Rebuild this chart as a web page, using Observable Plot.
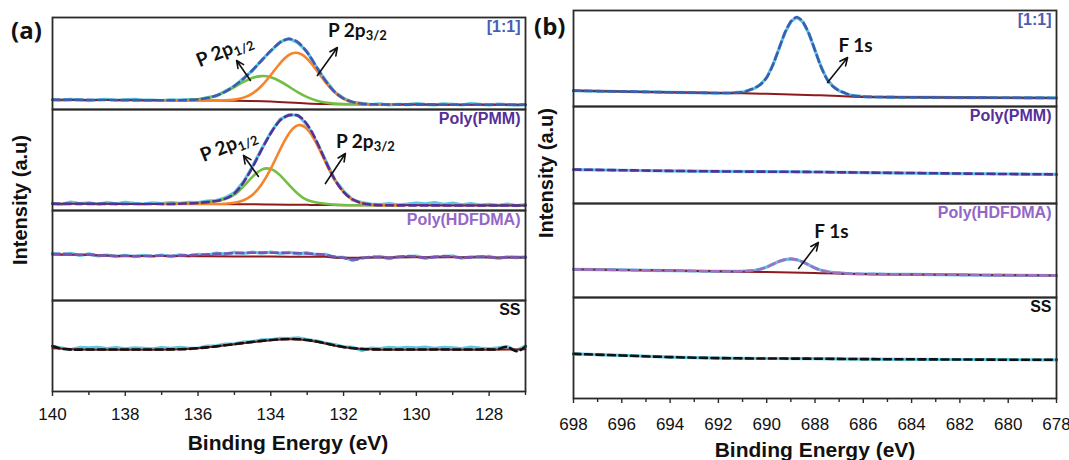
<!DOCTYPE html>
<html><head><meta charset="utf-8">
<script src="https://cdn.jsdelivr.net/npm/d3@7"></script>
<script src="https://cdn.jsdelivr.net/npm/@observablehq/plot@0.6"></script>
<style>
body{margin:0;background:#fff;width:1069px;height:460px;position:relative;overflow:hidden;font-family:"Liberation Sans",Arial,sans-serif;color:#111}
.ttl{position:absolute;font-weight:bold;font-size:20px;white-space:nowrap}
.pl{position:absolute;font-weight:bold;font-size:24px;font-family:"Open Sans","Liberation Sans",sans-serif}
</style></head><body>
<div id="root"></div>
<script>
// ---------- data ----------
const samples = ["[1:1]", "Poly(PMM)", "Poly(HDFDMA)", "SS"];
const energyA = [140,139.75,139.5,139.25,139,138.75,138.5,138.25,138,137.75,137.5,137.25,137,136.75,136.5,136.25,136,135.75,135.5,135.25,135,134.75,134.5,134.25,134,133.75,133.5,133.25,133,132.75,132.5,132.25,132,131.75,131.5,131.25,131,130.75,130.5,130.25,130,129.75,129.5,129.25,129,128.75,128.5,128.25,128,127.75,127.5,127.25,127];
const peakEnergyA = [137,136.75,136.5,136.25,136,135.75,135.5,135.25,135,134.75,134.5,134.25,134,133.75,133.5,133.25,133,132.75,132.5,132.25,132,131.75,131.5,131.25,131,130.75,130.5];
const bgEnergyA = [140,139,138,137,136,135,134.5,134,133.5,133,132.5,132,131,130,129,128,127];
const ticksA = [140,138,136,134,132,130,128];
const minorTicksA = [139,137,135,133,131,129,127];

const a1Raw = [12.6,11.9,12.8,12.2,11.5,12.4,12.9,11.8,12.3,12.7,11.9,12.1, 11.6,12.3,11.9,12.6,12.5,14.6,16.4,21.5,26.8,35.3,43.6,54.8,64.2,73.8,77.6,73.0,63.3,47.4,33.3,20.6,14.1,9.6,8.5,7.2,7.9,6.8,7.6, 7.1,8.2,7.4,6.9,8.0,7.6,7.0,8.3,7.5,6.8,7.7,7.2,6.6,7.1];
const a1Env = [12.3,12.28,12.25,12.22,12.2,12.15,12.1,12.05,12.0,11.95,11.9,11.85, 11.8,11.85,11.87,12.13,12.79,14.18,16.82,21.1,27.2,34.85,44.05,54.2,64.7,73.2,77.1,73.5,62.8,47.8,32.8,21.1,13.7,9.9,8.2,7.58,7.36,7.3,7.25, 7.22,7.2,7.18,7.15,7.12,7.1,7.08,7.05,7.02,7.0,7.0,7.0,7.0,7.0];
const a1Bg = [12.3,12.2,12.0,11.8,11.6,11.3,11.0,10.4,9.4,8.4,7.8,7.5,7.3,7.2,7.1,7.0,7.0];
const a1P32 = [11.8,11.75,11.7,11.65,11.6,11.5,11.5,11.73,12.56,14.65,19.25,27.3,38.7,51.0,60.2,62.2,56.0,44.2,31.1,20.4,13.46,9.81,8.2,7.58,7.36,7.3,7.25];
const a1P12 = [11.8,11.8,11.87,12.13,12.79,14.18,16.72,20.7,25.9,31.35,35.8,37.6,36.4,32.1,26.3,20.2,15.16,11.67,9.47,8.3,7.76,7.53,7.4,7.35,7.3,7.3,7.25];

const a2Raw = [7.2,6.1,8.3,6.8,7.5,6.2,7.9,6.5,8.1,7.0,6.4,7.6, 6.9,7.8,7.2,8.1,7.9,9.2,9.9,12.5,17.6,28.4,43.8,61.2,77.3,90.1,94.8,94.3,84.6,68.5,50.1,30.7,19.2,10.4,7.9,6.3,5.9,6.8,5.6, 6.3,7.4,6.6,7.9,6.1,7.3,5.6,6.9,5.4,6.2,5.1,6.4,4.9,5.8];
const a2Env = [6.6,6.6,6.6,6.6,6.6,6.58,6.55,6.53,6.5,6.5,6.5,6.5, 6.5,6.48,6.75,7.03,7.5,8.3,9.45,11.74,16.92,27.85,43.0,60.4,76.5,89.0,94.2,93.8,85.25,69.2,49.3,31.3,18.4,10.9,7.25,5.8,5.3,5.14,5.1, 5.1,5.1,5.08,5.05,5.03,5.0,5.0,5.0,5.0,5.0,5.0,5.0,5.0,5.0];
const a2Bg = [6.6,6.6,6.5,6.5,6.4,6.3,6.2,6.0,5.8,5.6,5.4,5.2,5.1,5.1,5.0,5.0,5.0];
const a2P32 = [6.5,6.48,6.45,6.43,6.4,6.4,6.45,6.74,7.67,10.15,15.7,26.0,41.4,59.9,76.2,84.3,80.5,66.7,48.1,30.8,18.2,10.9,7.25,5.8,5.3,5.14,5.1];
const a2P12 = [6.5,6.48,6.75,7.03,7.5,8.28,9.35,11.33,15.55,23.95,33.5,40.5,41.1,35.0,25.4,16.4,10.35,8.0,6.6,5.8,5.4,5.18,5.15,5.13,5.1,5.1,5.1];

const a3Raw = [52.3,51.1,52.4,50.2,51.8,49.6,50.5,48.8,50.3,48.7,50.1,48.9, 50.6,48.8,50.7,49.6,51.4,50.5,52.6,51.6,53.4,52.2,53.8,52.5,53.9,52.3,53.6,51.9,53.1,50.8,51.3,47.9,48.0,44.6,47.5,47.8,49.2,46.5,48.9, 48.8,49.4,46.8,48.9,48.6,49.5,46.9,48.6,48.1,49.0,46.7,48.6,47.7,48.5];
const a3Env = [51.5,52.0,51.2,50.8,51.0,50.3,49.8,49.5,49.6,49.3,49.4,49.6, 49.8,49.5,49.9,50.3,50.6,51.2,51.8,52.3,52.6,52.9,53.1,53.2,53.1,53.0,52.8,52.6,52.3,51.6,50.5,48.8,47.2,45.5,46.8,48.5,48.0,47.2,48.3, 49.5,48.6,47.5,48.2,49.3,48.7,47.6,47.9,48.8,48.2,47.4,47.9,48.4,47.8];
const a3Bg = [51.0,50.5,49.5,49.4,49.3,49.0,48.9,48.8,48.7,48.6,48.5,47.5,47.8,48.0,48.0,47.9,47.8];

const a4Raw = [49.5,47.8,46.2,48.4,47.9,48.6,47.1,48.3,46.9,48.1,47.5,46.8, 48.2,47.4,48.6,47.3,47.8,49.9,50.3,52.1,52.4,54.4,54.9,56.8,56.9,58.4,58.1,58.9,57.0,55.6,53.2,51.5,49.0,48.6,45.1,47.8,47.2,48.5,47.6, 48.4,47.9,48.8,47.4,48.6,48.1,47.2,48.7,47.6,47.0,47.9,49.3,44.8,50.1];
const a4Env = [50.0,47.0,46.0,46.0,46.1,46.1,46.2,46.2,46.2,46.2,46.2,46.2, 46.2,46.3,46.4,46.8,47.6,48.5,49.6,50.8,52.0,53.3,54.5,55.6,56.6,57.3,57.7,57.5,56.6,55.0,53.0,50.8,48.9,47.6,46.8,46.4,46.2,46.2,46.2, 46.2,46.2,46.2,46.2,46.2,46.2,46.2,46.2,46.2,46.3,46.6,48.8,44.3,49.5];
const a4Bg = [47.5,46.0,46.0,46.0,47.4,51.8,54.3,56.4,57.5,56.4,52.8,48.7,46.0,46.0,46.0,46.0,46.3];

const energyB = [698,697,696,695,694,693,692,691.5,691,690.75,690.5,690.25,690,689.75,689.5,689.25,689,688.75,688.5,688.25,688,687.75,687.5,687.25,687,686.75,686.5,686,685.5,685,684,683,682,681,680,679,678];
const energyB2 = [698,696,694,692,690,688,686,684,682,680,678];
const bgEnergyB = [698,696,694,692,691,690,689,688,687,686,684,682,680,678];
const ticksB = [698,696,694,692,690,688,686,684,682,680,678];
const minorTicksB = [697,695,693,691,689,687,685,683,681,679];

const b1Spec = [16.5,16.05,15.6,15.2,14.8,14.4,14.0,14.15,14.9,16.8,19.1,23.1,30.2,42.9,59.65,76.5,88.4,93.0,88.0,75.7,58.5,41.4,28.25,20.8,16.5,13.9,11.65,10.3,9.9,9.8,9.6,9.45,9.3,9.2,9.1,9.0,8.9];
const b1Bg = [16.5,15.6,14.8,14.0,13.7,13.3,12.6,11.8,10.9,10.0,9.6,9.3,9.1,8.9];
const b2Spec = [35.0,34.3,33.6,33.1,32.8,32.5,31.9,31.4,30.9,30.4,30.0];
const b3Spec = [30.0,29.6,29.3,28.9,28.6,28.2,27.8,27.7,28.0,28.3,28.95,30.2,32.4,35.4,38.25,40.3,41.1,40.1,37.75,34.6,31.4,29.0,27.5,26.6,26.1,25.6,25.25,25.0,24.9,24.75,24.5,24.3,24.1,23.9,23.7,23.55,23.4];
const b3Bg = [30.0,29.3,28.6,27.8,27.4,27.0,26.5,26.0,25.5,25.0,24.5,24.1,23.7,23.4];
const b4Spec = [44.2,42.6,41.0,40.0,39.6,39.4,39.0,38.8,38.6,38.4,38.3];

// ---------- styling ----------
const C = {raw:"#5cc8e0", bg:"#8e1b1b", p32:"#f7842a", p12:"#72bf44"};
const envColors = ["#3d5bb0","#56309a","#7b52b8","#111111"];
const envColorsB = ["#3d5bb0","#56309a","#a070c8","#111111"];
const labelColors = ["#4a5db5","#56309a","#9466c8","#111111"];
const pairs = (es, vs) => es.map((e, i) => ({e, v: vs[i]}));

const panelA = {
  left: 0, width: 535, ml: 52, mr: 10, domain: [140,127], ticks: ticksA, minor: minorTicksA, mb: 69, pad: 11,
  subs: [
    {top:17, h:92, yd:[2,100], raw:[energyA,a1Raw], env:[energyA,a1Env], bg:[bgEnergyA,a1Bg], comps:[[peakEnergyA,a1P12,C.p12],[peakEnergyA,a1P32,C.p32]],
     texts:[{e:135.27,v:64.8,t:"P 2p_1/2",r:-22},{e:131.62,v:86.2,t:"P 2p_3/2",r:0}],
     arrows:[{e1:134.56,v1:32.9,e2:134.94,v2:54.2},{e1:132.72,v1:38.2,e2:132.17,v2:68.0}]},
    {top:109, h:101, yd:[0,100], raw:[energyA,a2Raw], env:[energyA,a2Env], bg:[bgEnergyA,a2Bg], comps:[[peakEnergyA,a2P12,C.p12],[peakEnergyA,a2P32,C.p32]],
     texts:[{e:135.16,v:64.4,t:"P 2p_1/2",r:-22},{e:131.40,v:68.3,t:"P 2p_3/2",r:0}],
     arrows:[{e1:134.34,v1:33.7,e2:134.75,v2:54.5},{e1:132.50,v1:26.7,e2:131.95,v2:56.4}]},
    {top:210, h:90, yd:[0,100], raw:[energyA,a3Raw], env:[energyA,a3Env], bg:[bgEnergyA,a3Bg], comps:[], texts:[], arrows:[]},
    {top:300, h:91, yd:[0,100], raw:[energyA,a4Raw], env:[energyA,a4Env], bg:[bgEnergyA,a4Bg], comps:[], texts:[], arrows:[]}
  ], envColors
};
const panelB = {
  left: 520, width: 549, ml: 53, mr: 13, domain: [698,678], ticks: ticksB, minor: minorTicksB, mb: 62, pad: 14,
  subs: [
    {top:10, h:96, yd:[0,100], raw:[energyB,b1Spec], env:[energyB,b1Spec], bg:[bgEnergyB,b1Bg], comps:[],
     texts:[{e:686.32,v:63.5,t:"F 1s",r:0}], arrows:[{e1:687.48,v1:25,e2:686.65,v2:51}]},
    {top:106, h:97, yd:[0,100], raw:[energyB2,b2Spec], env:[energyB2,b2Spec], bg:null, comps:[], texts:[], arrows:[]},
    {top:203, h:94, yd:[0,100], raw:[energyB,b3Spec], env:[energyB,b3Spec], bg:[bgEnergyB,b3Bg], comps:[],
     texts:[{e:687.32,v:70.2,t:"F 1s",r:0}], arrows:[{e1:688.68,v1:30.9,e2:687.86,v2:58.5}]},
    {top:297, h:101, yd:[0,100], raw:[energyB2,b4Spec], env:[energyB2,b4Spec], bg:null, comps:[], texts:[], arrows:[]}
  ], envColors: envColorsB
};

const root = document.getElementById("root");
const NS = "http://www.w3.org/2000/svg";

function subscriptify(svg) {
  svg.querySelectorAll("text").forEach(t => {
    const s = t.textContent;
    const i = s.indexOf("_");
    if (i < 0) return;
    t.textContent = "";
    const a = document.createElementNS(NS, "tspan"); a.textContent = s.slice(0, i);
    const b = document.createElementNS(NS, "tspan"); b.textContent = s.slice(i + 1);
    b.setAttribute("font-size", "13"); b.setAttribute("dy", "0.28em");
    t.append(a, b);
  });
}

function drawPanel(P) {
  P.subs.forEach((s, k) => {
    const last = k === P.subs.length - 1;
    const marks = [];
    marks.push(Plot.line(pairs(...s.raw), {x:"e", y:"v", stroke:C.raw, strokeWidth:3.2}));
    if (s.bg) marks.push(Plot.line(pairs(...s.bg), {x:"e", y:"v", stroke:C.bg, strokeWidth:2, curve:"natural"}));
    for (const [es, vs, col] of s.comps) marks.push(Plot.line(pairs(es, vs), {x:"e", y:"v", stroke:col, strokeWidth:2.6, curve:"natural"}));
    marks.push(Plot.line(pairs(...s.env), {x:"e", y:"v", stroke:P.envColors[k], strokeWidth:2.6, strokeDasharray:"7,4.5", curve:"natural"}));
    marks.push(Plot.arrow(s.arrows, {x1:"e1", y1:"v1", x2:"e2", y2:"v2", stroke:"#111", strokeWidth:1.6, headLength:8, headAngle:50}));
    marks.push(Plot.text(s.texts, {x:"e", y:"v", text:"t", rotate:"r", fontSize:19, fontWeight:"bold", fill:"#111", fontFamily:"Lato, 'Open Sans', sans-serif"}));
    marks.push(Plot.text([samples[k]], {frameAnchor:"top-right", dx:-5, dy:3, lineAnchor:"top", fill:labelColors[k], fontWeight:"bold", fontSize:16, fontFamily:"'Liberation Sans', Arial, sans-serif"}));
    marks.push(Plot.frame({stroke:"#2a2a2a", strokeWidth:1.8}));
    if (last) {
      marks.push(Plot.axisX({ticks:P.ticks, tickSize:5, tickPadding:P.pad, fontSize:17, label:null, stroke:"#2a2a2a", strokeWidth:1.4, fill:"#111", fontFamily:"'Liberation Sans', Arial, sans-serif"}));
      marks.push(Plot.axisX({ticks:P.minor, tickSize:4, tickFormat:() => "", label:null, stroke:"#2a2a2a", strokeWidth:1.4}));
    }
    const svg = Plot.plot({
      width:P.width, height:s.h + (last ? P.mb : 0),
      marginLeft:P.ml, marginRight:P.mr, marginTop:0, marginBottom: last ? P.mb : 0,
      x:{domain:P.domain, ...(last ? {} : {axis:null})},
      y:{domain:s.yd, axis:null},
      style:{overflow:"visible", background:"transparent"},
      marks
    });
    subscriptify(svg);
    svg.style.position = "absolute";
    svg.style.left = P.left + "px";
    svg.style.top = s.top + "px";
    root.appendChild(svg);
  });
}
drawPanel(panelA);
drawPanel(panelB);

function addDiv(cls, text, css) {
  const d = document.createElement("div");
  d.className = cls; d.textContent = text;
  Object.assign(d.style, css);
  root.appendChild(d);
  return d;
}
addDiv("pl", "(a)", {left:"11px", top:"13px"});
addDiv("pl", "(b)", {left:"534px", top:"9px"});
addDiv("ttl", "Binding Energy (eV)", {left:"288px", top:"443px", fontSize:"21px", transform:"translate(-50%,-50%)"});
addDiv("ttl", "Binding Energy (eV)", {left:"815px", top:"450px", fontSize:"21px", transform:"translate(-50%,-50%)"});
addDiv("ttl", "Intensity (a.u)", {left:"20px", top:"200px", transform:"translate(-50%,-50%) rotate(-90deg)"});
addDiv("ttl", "Intensity (a.u)", {left:"546px", top:"173px", transform:"translate(-50%,-50%) rotate(-90deg)"});
</script></body></html>
